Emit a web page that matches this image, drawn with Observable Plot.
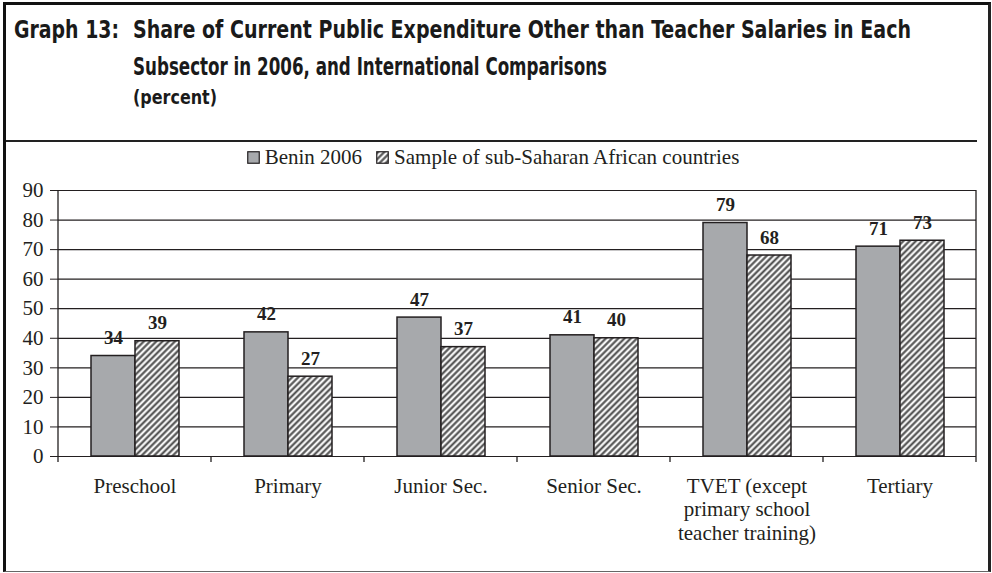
<!DOCTYPE html>
<html>
<head>
<meta charset="utf-8">
<script src="https://cdn.jsdelivr.net/npm/d3@7"></script>
<script src="https://cdn.jsdelivr.net/npm/@observablehq/plot@0.6"></script>
<style>
  html, body { margin: 0; padding: 0; background: #fff; }
  #page { position: relative; width: 992px; height: 573px; overflow: hidden; background: #fff; }
  #frame { position: absolute; left: 3px; top: 2px; width: 982px; height: 566px;
    border-left: 3px solid #111; border-top: 3px solid #111; border-right: 3px solid #222; border-bottom: 1px solid #666;
    pointer-events: none; z-index: 5; }
  #sep { position: absolute; left: 6px; top: 140px; width: 971px; height: 0; border-top: 2px solid #222; z-index: 5; }
  .tt { position: absolute; white-space: nowrap; line-height: 1; color: #1a1a1a;
    font-family: "Liberation Sans Narrow", "DejaVu Sans Condensed", "Arial Narrow", sans-serif; font-weight: 700;
    transform-origin: 0 0; }
  #legend { position: absolute; left: 0; top: 145px; width: 986px; height: 24px; display: flex; align-items: center; justify-content: center;
    font-family: "Liberation Serif", "Times New Roman", serif; font-size: 21px; color: #231f20; }
  #legend .item { display: flex; align-items: center; margin: 0 7px; }
  #legend svg { margin-right: 5px; display: block; }
  #chart { position: absolute; left: 0; top: 170px; }
</style>
</head>
<body>
<svg width="0" height="0" style="position:absolute">
  <defs>
    <pattern id="hatch" patternUnits="userSpaceOnUse" width="4.4" height="4.4" patternTransform="rotate(45)">
      <rect width="4.4" height="4.4" fill="#f4f4f4"></rect>
      <line x1="2.2" y1="0" x2="2.2" y2="4.4" stroke="#4a4a4a" stroke-width="2"></line>
    </pattern>
  </defs>
</svg>
<div id="page">
  <div id="chart"></div>
  <div id="t0" class="tt" style="left:14px;top:17px;font-size:25px" data-w="105">Graph 13:</div>
  <div id="t1" class="tt" style="left:133px;top:17px;font-size:25px" data-w="778">Share of Current Public Expenditure Other than Teacher Salaries in Each</div>
  <div id="t2" class="tt" style="left:133px;top:54px;font-size:25px" data-w="474">Subsector in 2006, and International Comparisons</div>
  <div id="t3" class="tt" style="left:133px;top:88px;font-size:19px" data-w="84">(percent)</div>
  <div id="sep"></div>
  <div id="legend"></div>
  <div id="frame"></div>
</div>
<script>
// ---- data ----
const categories = ["Preschool", "Primary", "Junior Sec.", "Senior Sec.", "TVET (except primary school teacher training)", "Tertiary"];
const tickLabels = ["Preschool", "Primary", "Junior Sec.", "Senior Sec.", "TVET (except\nprimary school\nteacher training)", "Tertiary"];
const series = ["Benin 2006", "Sample of sub-Saharan African countries"];
const benin2006 = [34, 42, 47, 41, 79, 71];
const ssaSample = [39, 27, 37, 40, 68, 73];
const yTicks = [0, 10, 20, 30, 40, 50, 60, 70, 80, 90];

// ---- styles ----
const ink = "#231f20";
const grayFill = "#a7a9ac";
const hatchFill = "url(#hatch)";
const serif = "'Liberation Serif', 'Times New Roman', serif";

const data = [];
categories.forEach((c, i) => {
  data.push({category: c, series: series[0], value: benin2006[i]});
  data.push({category: c, series: series[1], value: ssaSample[i]});
});

// title fitting
document.querySelectorAll(".tt").forEach(el => {
  const w = el.getBoundingClientRect().width;
  const target = +el.dataset.w;
  el.style.transform = `scaleX(${target / w})`;
});

// legend
const legend = d3.select("#legend");
series.forEach((s, i) => {
  const item = legend.append("div").attr("class", "item");
  const sw = item.append("svg").attr("width", 13).attr("height", 13);
  sw.append("rect").attr("x", 0.75).attr("y", 0.75).attr("width", 11.5).attr("height", 11.5)
    .attr("fill", i === 0 ? grayFill : hatchFill).attr("stroke", ink).attr("stroke-width", 1.2);
  item.append("span").text(s);
});

const plot = Plot.plot({
  width: 992,
  height: 395,
  marginLeft: 57,
  marginRight: 15,
  marginTop: 20,
  marginBottom: 109,
  style: {fontFamily: serif, fontSize: "21px", color: ink, background: "transparent"},
  fx: {domain: categories, padding: 0, label: null},
  x: {domain: series, paddingInner: 0, paddingOuter: 0.7225, axis: null},
  y: {domain: [0, 90], ticks: yTicks, tickSize: 8, tickPadding: 7, label: null},
  color: {domain: series, range: [grayFill, hatchFill]},
  marks: [
    Plot.ruleY(yTicks, {stroke: ink, strokeWidth: 1.2}),
    Plot.barY(data, {fx: "category", x: "series", y: "value", fill: "series", stroke: ink, strokeWidth: 1.5}),
    Plot.text(data, {fx: "category", x: "series", y: "value", text: d => String(d.value), dy: -18,
      fontWeight: "bold", fontSize: 19, fill: ink}),
    Plot.axisFx({anchor: "bottom", tickSize: 0, tickPadding: 19, label: null, lineHeight: 1.14,
      tickFormat: c => tickLabels[categories.indexOf(c)], fill: ink})
  ]
});

// frame lines and category boundary ticks, from the plot's own scales
const fxs = plot.scale("fx");
const ys = plot.scale("y");
const edges = categories.map(c => fxs.apply(c));
edges.push(fxs.apply(categories[categories.length - 1]) + fxs.bandwidth);
const y0 = ys.apply(0), yTop = ys.apply(90);
const g = d3.select(plot).append("g").attr("stroke", ink).attr("stroke-width", 1.3).attr("fill", "none");
g.append("line").attr("x1", edges[0]).attr("x2", edges[0]).attr("y1", yTop).attr("y2", y0);
g.append("line").attr("x1", edges[edges.length - 1]).attr("x2", edges[edges.length - 1]).attr("y1", yTop).attr("y2", y0);
edges.forEach(x => g.append("line").attr("x1", x).attr("x2", x).attr("y1", y0).attr("y2", y0 + 6));

document.getElementById("chart").appendChild(plot);
</script>
</body>
</html>
